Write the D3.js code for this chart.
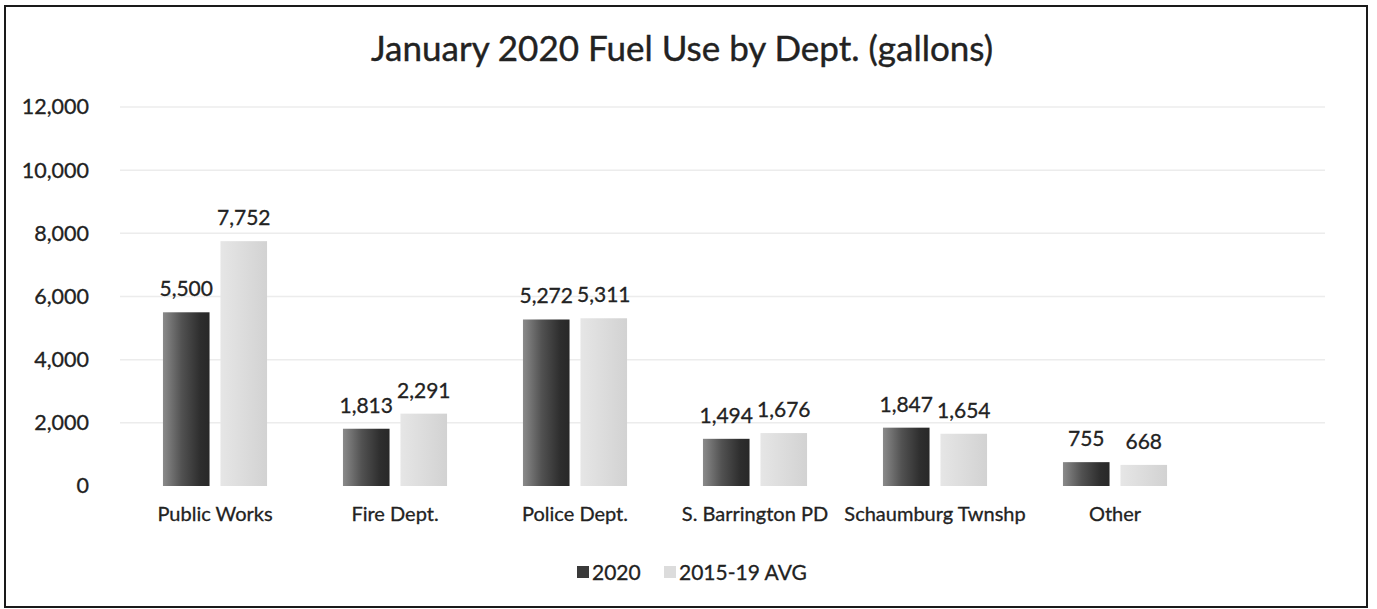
<!DOCTYPE html>
<html>
<head>
<meta charset="utf-8">
<script src="https://cdn.jsdelivr.net/npm/d3@7"></script>
<style>
  html, body { margin: 0; padding: 0; background: #fff; }
  svg { display: block; }
  text { font-family: Lato, "Open Sans", sans-serif; fill: #222; stroke: #222; stroke-width: 0.3px; }
</style>
</head>
<body>
<svg id="chart" width="1377" height="609"></svg>
<script>
const categories = ["Public Works", "Fire Dept.", "Police Dept.", "S. Barrington PD", "Schaumburg Twnshp", "Other"];
const seriesNames = ["2020", "2015-19 AVG"];
const values2020 = [5500, 1813, 5272, 1494, 1847, 755];
const valuesAvg = [7752, 2291, 5311, 1676, 1654, 668];
const yTicks = [0, 2000, 4000, 6000, 8000, 10000, 12000];
const title = "January 2020 Fuel Use by Dept. (gallons)";

const svg = d3.select("#chart");

// gradients
const defs = svg.append("defs");
const g1 = defs.append("linearGradient").attr("id", "gDark").attr("x1", "0").attr("x2", "1").attr("y1", "0").attr("y2", "0");
g1.append("stop").attr("offset", "0").attr("stop-color", "#8a8a8a");
g1.append("stop").attr("offset", "0.4").attr("stop-color", "#525252");
g1.append("stop").attr("offset", "0.8").attr("stop-color", "#2e2e2e");
g1.append("stop").attr("offset", "1").attr("stop-color", "#282828");
const g2 = defs.append("linearGradient").attr("id", "gLight").attr("x1", "0").attr("x2", "1").attr("y1", "0").attr("y2", "0");
g2.append("stop").attr("offset", "0").attr("stop-color", "#e6e6e6");
g2.append("stop").attr("offset", "1").attr("stop-color", "#d2d2d2");
const fills = ["url(#gDark)", "url(#gLight)"];
const legendFills = ["#3a3a3a", "#dcdcdc"];

// border
svg.append("rect").attr("x", 5).attr("y", 6).attr("width", 1362).attr("height", 601)
  .attr("fill", "none").attr("stroke", "#1a1a1a").attr("stroke-width", 2);

// title
svg.append("text").attr("x", 682).attr("y", 61).attr("text-anchor", "middle")
  .style("font-size", "35px").style("stroke-width", "0.4px").text(title);

const y = d3.scaleLinear().domain([0, 12000]).range([486, 107]);
const x0 = d3.scaleBand().domain(categories).range([125, 1205]).padding(0);
const x1 = d3.scaleBand().domain(seriesNames).range([0, x0.bandwidth()]).paddingInner(0.19).paddingOuter(0.66);

// gridlines
svg.append("g").selectAll("line").data(yTicks.slice(1)).join("line")
  .attr("x1", 120).attr("x2", 1325)
  .attr("y1", d => y(d)).attr("y2", d => y(d))
  .attr("stroke", "#ececec").attr("stroke-width", 1.5);

// y axis labels
const yAxis = d3.axisLeft(y).tickValues(yTicks).tickFormat(d3.format(",")).tickSize(0).tickPadding(0);
const yg = svg.append("g").attr("transform", "translate(89,0)").call(yAxis);
yg.select(".domain").remove();
yg.selectAll("text").style("font-size", "21.5px").attr("fill", "#222").style("font-family", "Lato, sans-serif");

// x axis labels
const xAxis = d3.axisBottom(x0).tickSize(0).tickPadding(0);
const xg = svg.append("g").attr("transform", "translate(0,507)").call(xAxis);
xg.select(".domain").remove();
xg.selectAll("text").style("font-size", "20px").attr("fill", "#222").style("font-family", "Lato, sans-serif");

// bars
const data = categories.map((c, i) => ({ cat: c, vals: [values2020[i], valuesAvg[i]] }));
const groups = svg.append("g").selectAll("g").data(data).join("g")
  .attr("transform", d => `translate(${x0(d.cat)},0)`);
groups.selectAll("rect").data(d => d.vals.map((v, j) => ({ s: seriesNames[j], v, j }))).join("rect")
  .attr("x", d => x1(d.s)).attr("width", x1.bandwidth())
  .attr("y", d => y(d.v)).attr("height", d => y(0) - y(d.v))
  .attr("fill", d => fills[d.j]);
groups.selectAll("text.val").data(d => d.vals.map((v, j) => ({ s: seriesNames[j], v, j }))).join("text")
  .attr("class", "val")
  .attr("x", d => x1(d.s) + x1.bandwidth() / 2).attr("y", d => y(d.v) - 16)
  .attr("text-anchor", "middle").style("font-size", "21px")
  .text(d => d3.format(",")(d.v));

// legend
const legendX = [577, 664];
const lg = svg.append("g");
seriesNames.forEach((s, i) => {
  lg.append("rect").attr("x", legendX[i]).attr("y", 566).attr("width", 12).attr("height", 12).attr("fill", legendFills[i]);
  lg.append("text").attr("x", legendX[i] + 15).attr("y", 580).style("font-size", "21px").text(s);
});
</script>
</body>
</html>
